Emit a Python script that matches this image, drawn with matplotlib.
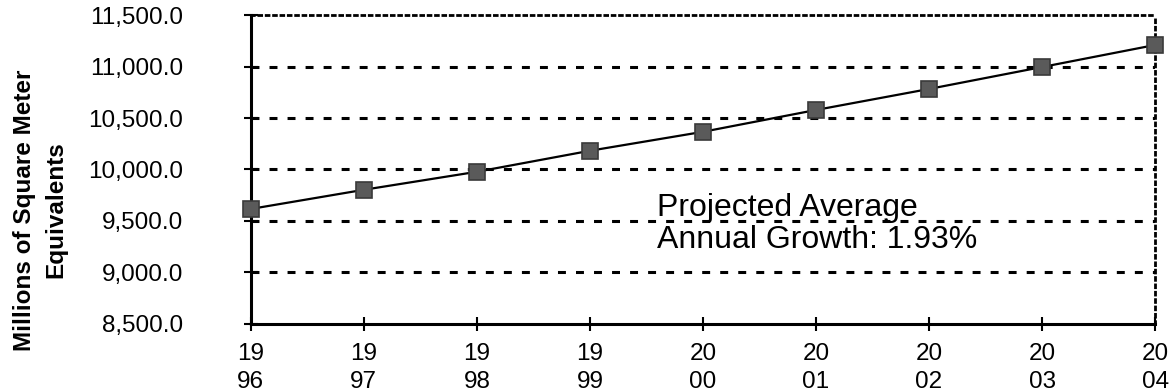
import matplotlib.pyplot as plt
import numpy as np

plt.rcParams['font.family'] = ['Liberation Sans', 'DejaVu Sans']

years = [1996, 1997, 1998, 1999, 2000, 2001, 2002, 2003, 2004]
area = [9617, 9803, 9978, 10182, 10366, 10578, 10782, 10995, 11209]
year_labels = ['19\n96', '19\n97', '19\n98', '19\n99', '20\n00',
               '20\n01', '20\n02', '20\n03', '20\n04']
y_ticks = [8500, 9000, 9500, 10000, 10500, 11000, 11500]

fig = plt.figure(figsize=(11.72, 3.91), dpi=100)
ax = fig.add_axes([0.214, 0.1714, 0.7716, 0.7902])

# dashed reference lines
for v in y_ticks[1:-1]:
    ax.axhline(v, color='black', lw=2.2, ls=(0, (2.6, 3.3)), zorder=1)

ax.plot(years, area, color='black', lw=1.6, marker='s', markersize=11,
        markerfacecolor='#5a5a5a', markeredgecolor='#3a3a3a',
        markeredgewidth=1.2, zorder=3, clip_on=False)

ax.set_xlim(1996, 2004)
ax.set_ylim(8500, 11500)
ax.set_yticks(y_ticks)
ax.set_yticklabels([f'{v:,.1f}' for v in y_ticks])
ax.set_xticks(years)
ax.set_xticklabels(year_labels, linespacing=1.3)

ax.spines['left'].set_linewidth(2.2)
ax.spines['bottom'].set_linewidth(2.2)
for s in ('top', 'right'):
    ax.spines[s].set_linestyle(':')
    ax.spines[s].set_linewidth(2.0)

ax.tick_params(axis='both', direction='inout', length=10, width=1.5,
               labelsize=17.5, colors='black')
ax.tick_params(axis='y', pad=44)
ax.tick_params(axis='x', pad=9)
for lab in ax.get_yticklabels():
    lab.set_horizontalalignment('right')

# axis title sits below the vertical centre of the plot
fig.text(0.034, 0.463, 'Millions of Square Meter\nEquivalents', fontsize=17.5,
         fontweight='bold', rotation=90, ha='center', va='center',
         linespacing=1.45)

ax.text(1999.59, 9470, 'Projected Average\nAnnual Growth: 1.93%',
        fontsize=23, va='center', ha='left', linespacing=1.1, zorder=4)

fig.savefig('out.png', dpi=100)
